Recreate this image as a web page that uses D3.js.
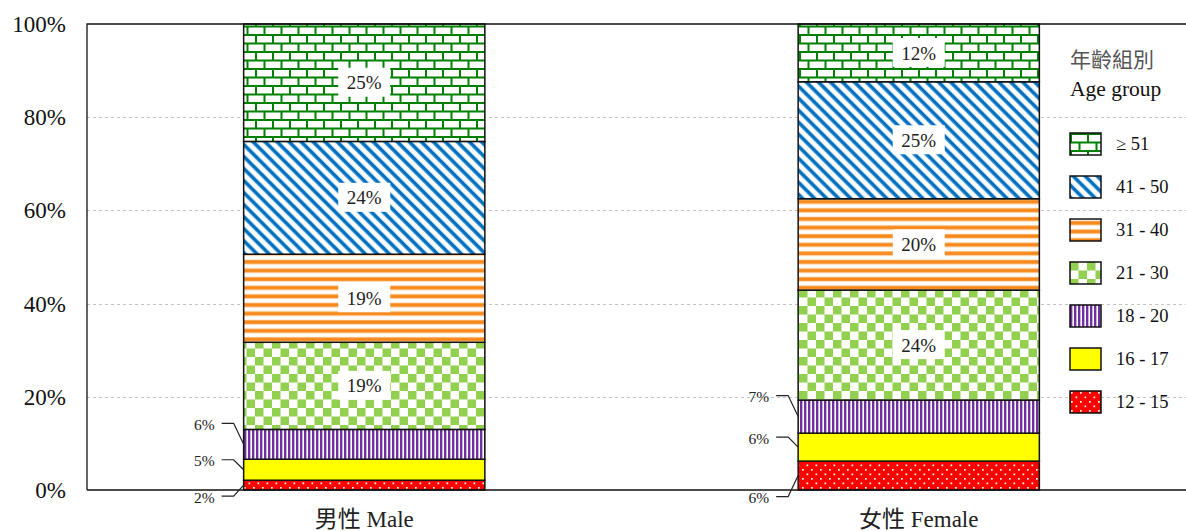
<!DOCTYPE html>
<html>
<head>
<meta charset="utf-8">
<script src="https://cdn.jsdelivr.net/npm/d3@7"></script>
<style>
body { margin: 0; background: #fff; }
svg { display: block; }
</style>
</head>
<body>
<div id="chart"></div>
<script>
const categories = ['男性 Male', '女性 Female'];
const ageGroups = ['12 - 15', '16 - 17', '18 - 20', '21 - 30', '31 - 40', '41 - 50', '≥ 51'];
const maleShares = [2.1, 4.5, 6.4, 18.7, 18.9, 24.2, 25.2];
const femaleShares = [6.2, 6.0, 7.1, 23.6, 19.6, 25.1, 12.4];
const yTicks = [0, 20, 40, 60, 80, 100];
const legendTitle = ['年齡組別', 'Age group'];

const w = 1186, h = 531;
const serif = '"Times New Roman", "Liberation Serif", serif';
const cjk = '"Times New Roman", "Liberation Serif", "Noto Sans CJK TC", serif';

// label layout for the three thin segments (offset of label from segment middle)
const sideOffsets = [[12, -9, -20], [22, -9, -20]];

const table = categories.map((c, i) => {
  const row = { cat: c };
  const vals = i === 0 ? maleShares : femaleShares;
  ageGroups.forEach((g, k) => row[g] = vals[k]);
  return row;
});
const series = d3.stack().keys(ageGroups)(table);

const x = d3.scaleBand().domain(categories).range([87, 1196]);
const y = d3.scaleLinear().domain([0, 100]).range([490, 24]);
const barW = x.bandwidth() * 0.435;

const svg = d3.select('#chart').append('svg').attr('width', w).attr('height', h);
const defs = svg.append('defs');

function pattern(id, pw, ph) {
  return defs.append('pattern').attr('id', id)
    .attr('patternUnits', 'userSpaceOnUse')
    .attr('width', pw).attr('height', ph);
}
// 12 - 15 red with white dots
let p = pattern('pat0', 9, 9);
p.append('rect').attr('width', 9).attr('height', 9).attr('fill', '#ff0000');
p.append('rect').attr('x', 1).attr('y', 1).attr('width', 1.7).attr('height', 1.7).attr('fill', '#fff');
p.append('rect').attr('x', 5.5).attr('y', 5.5).attr('width', 1.7).attr('height', 1.7).attr('fill', '#fff');
// 16 - 17 yellow
p = pattern('pat1', 10, 10);
p.append('rect').attr('width', 10).attr('height', 10).attr('fill', '#ffff00');
// 18 - 20 purple vertical stripes
p = pattern('pat2', 4, 10);
p.append('rect').attr('width', 4).attr('height', 10).attr('fill', '#fff');
p.append('rect').attr('x', 2.2).attr('width', 0.8).attr('height', 10).attr('fill', '#d8c6e6');
p.append('rect').attr('width', 2.2).attr('height', 10).attr('fill', '#7030a0');
// 21 - 30 green checkerboard
p = pattern('pat3', 17, 17);
p.append('rect').attr('width', 17).attr('height', 17).attr('fill', '#fff');
p.append('rect').attr('width', 8.5).attr('height', 8.5).attr('fill', '#92d050');
p.append('rect').attr('x', 8.5).attr('y', 8.5).attr('width', 8.5).attr('height', 8.5).attr('fill', '#92d050');
// 31 - 40 orange horizontal stripes
p = pattern('pat4', 10, 8.6);
p.append('rect').attr('width', 10).attr('height', 8.6).attr('fill', '#fff');
p.append('rect').attr('y', 1.6).attr('width', 10).attr('height', 5).attr('fill', '#fcd6ad');
p.append('rect').attr('y', 2.2).attr('width', 10).attr('height', 3.4).attr('fill', '#f7891c');
// 41 - 50 blue diagonal
p = pattern('pat5', 8.5, 8.5).attr('patternTransform', 'rotate(-45)');
p.append('rect').attr('width', 8.5).attr('height', 8.5).attr('fill', '#fff');
p.append('rect').attr('width', 4.4).attr('height', 8.5).attr('fill', '#a9cdea');
p.append('rect').attr('x', 0.6).attr('width', 3.2).attr('height', 8.5).attr('fill', '#0070c0');
// >= 51 green bricks
p = pattern('pat6', 17, 17);
p.append('rect').attr('width', 17).attr('height', 17).attr('fill', '#fff');
p.append('path')
  .attr('d', 'M0,1H17M0,9.5H17M1,1V9.5M9.5,9.5V18')
  .attr('stroke', '#008000').attr('stroke-width', 2).attr('fill', 'none');

// grid
svg.append('g').selectAll('line')
  .data(yTicks.filter(t => t > 0 && t < 100))
  .enter().append('line')
  .attr('x1', 87).attr('x2', w)
  .attr('y1', d => Math.round(y(d)) + 0.5).attr('y2', d => Math.round(y(d)) + 0.5)
  .attr('stroke', '#c4c4c4').attr('stroke-dasharray', '3,3');

// y axis labels
svg.append('g').selectAll('text')
  .data(yTicks).enter().append('text')
  .attr('x', 66).attr('y', d => y(d))
  .attr('dy', '0.35em')
  .attr('text-anchor', 'end')
  .style('font-family', serif).style('font-size', '23px').style('fill', '#111')
  .text(d => d + '%');

// bars
const layers = svg.append('g').selectAll('g')
  .data(series).enter().append('g')
  .attr('fill', (d, i) => 'url(#pat' + i + ')');

layers.selectAll('rect')
  .data(d => d).enter().append('rect')
  .attr('x', d => x(d.data.cat) + (x.bandwidth() - barW) / 2)
  .attr('y', d => y(d[1]))
  .attr('width', barW)
  .attr('height', d => y(d[0]) - y(d[1]))
  .attr('stroke', '#111').attr('stroke-width', 1.5);

// frame
svg.append('path')
  .attr('d', 'M87,' + y(0) + 'H' + w + 'M87,' + y(0) + 'V' + y(100) + 'H' + w)
  .attr('stroke', '#111').attr('stroke-width', 1.3).attr('fill', 'none');

// inside labels
series.forEach((s, k) => {
  if (k < 3) return;
  s.forEach(d => {
    const cx = x(d.data.cat) + x.bandwidth() / 2;
    const cy = (y(d[0]) + y(d[1])) / 2;
    svg.append('rect')
      .attr('x', cx - 26).attr('y', cy - 15)
      .attr('width', 52).attr('height', 29)
      .attr('fill', '#fff');
    svg.append('text')
      .attr('x', cx).attr('y', cy).attr('dy', '0.35em')
      .attr('text-anchor', 'middle')
      .style('font-family', serif).style('font-size', '19px').style('fill', '#222')
      .text(Math.round(d[1] - d[0]) + '%');
  });
});

// side labels with leader lines
series.forEach((s, k) => {
  if (k >= 3) return;
  s.forEach((d, ci) => {
    const bx = x(d.data.cat) + (x.bandwidth() - barW) / 2;
    const mid = (y(d[0]) + y(d[1])) / 2;
    const ly = mid + sideOffsets[ci][k];
    svg.append('path')
      .attr('d', 'M' + (bx - 22) + ',' + (ly - 1) + 'H' + (bx - 10) + 'L' + bx + ',' + mid)
      .attr('stroke', '#222').attr('stroke-width', 1.2).attr('fill', 'none');
    svg.append('text')
      .attr('x', bx - 29).attr('y', ly).attr('dy', '0.35em')
      .attr('text-anchor', 'end')
      .style('font-family', serif).style('font-size', '15.5px').style('fill', '#222')
      .text(Math.round(d[1] - d[0]) + '%');
  });
});

// category labels
svg.append('g').selectAll('text')
  .data(categories).enter().append('text')
  .attr('x', d => x(d) + x.bandwidth() / 2)
  .attr('y', 527)
  .attr('text-anchor', 'middle')
  .style('font-family', cjk).style('font-size', '23px').style('fill', '#222')
  .text(d => d);

// legend
const legend = svg.append('g').attr('transform', 'translate(1070, 0)');
legend.append('text').attr('x', 0).attr('y', 67)
  .style('font-family', cjk).style('font-size', '21px').style('fill', '#555')
  .text(legendTitle[0]);
legend.append('text').attr('x', 0).attr('y', 96)
  .style('font-family', serif).style('font-size', '21.5px').style('fill', '#111')
  .text(legendTitle[1]);

const items = legend.selectAll('g.item')
  .data(ageGroups.map((g, i) => ({ g, i })).reverse())
  .enter().append('g').attr('class', 'item')
  .attr('transform', (d, j) => 'translate(0,' + (133 + j * 43) + ')');
items.append('rect')
  .attr('width', 31).attr('height', 22)
  .attr('fill', d => 'url(#pat' + d.i + ')')
  .attr('stroke', '#111').attr('stroke-width', 1.5);
items.append('text')
  .attr('x', 46).attr('y', 11).attr('dy', '0.35em')
  .style('font-family', serif).style('font-size', '18.5px').style('fill', '#111')
  .text(d => d.g);
</script>
</body>
</html>
